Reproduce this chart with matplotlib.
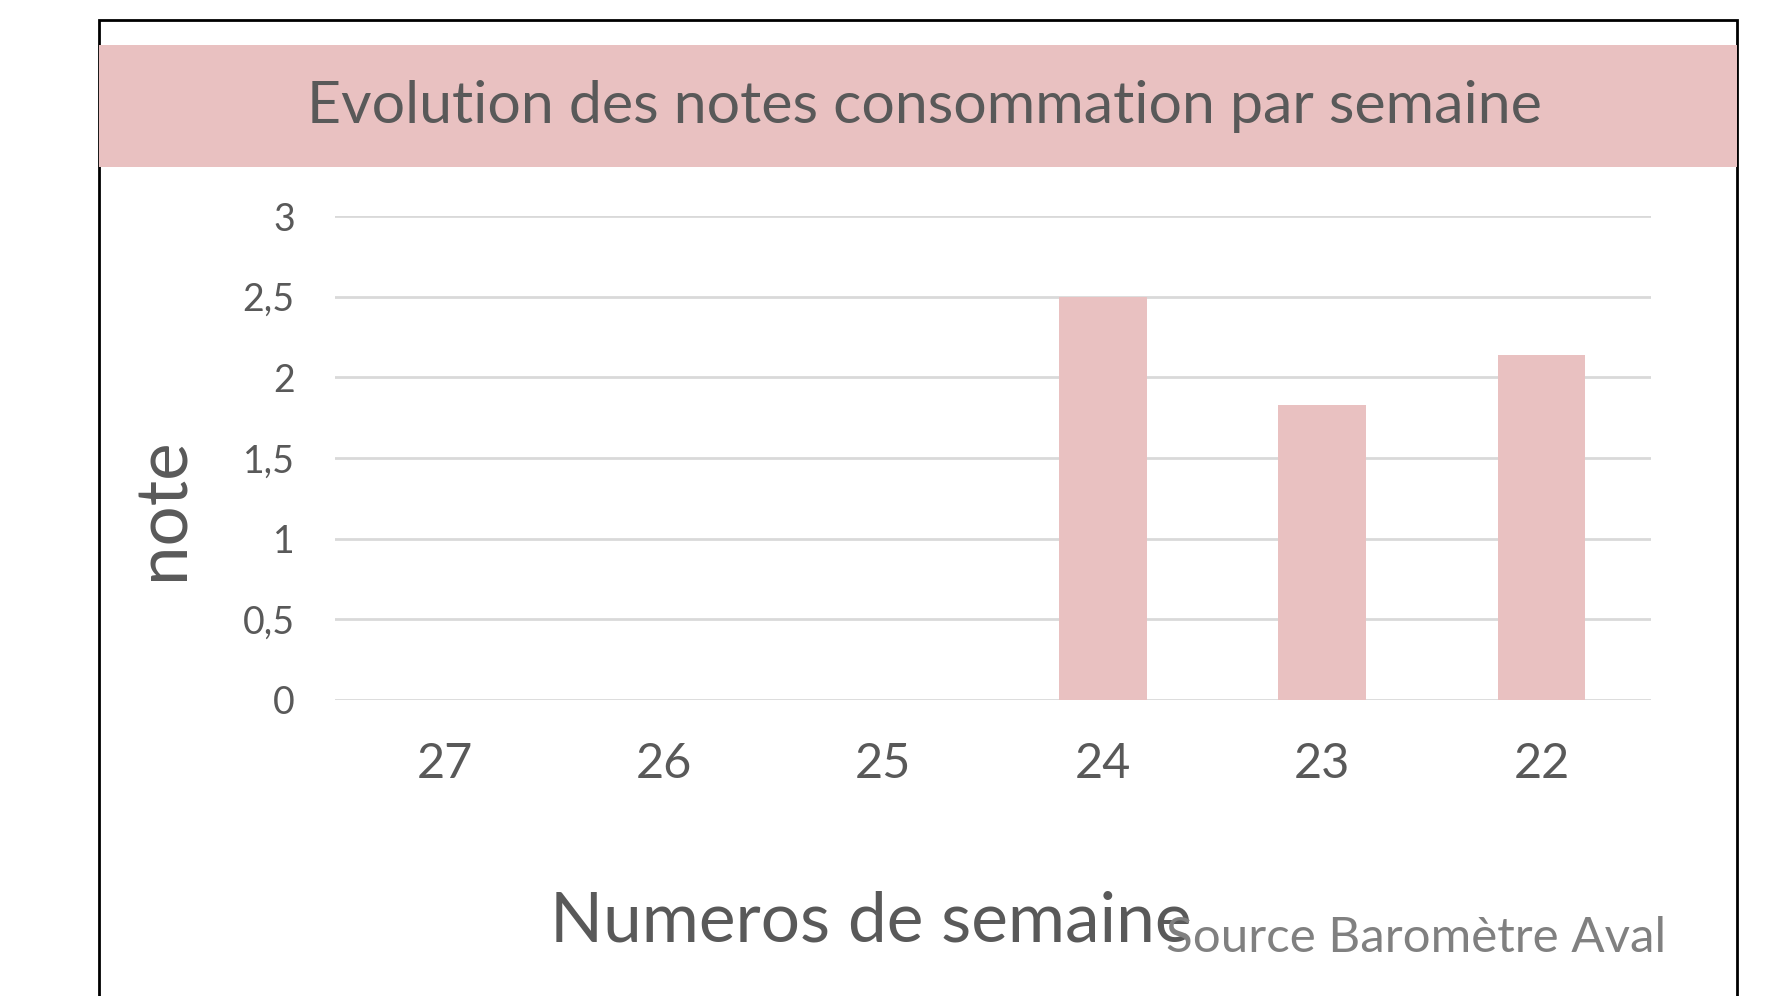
import numpy as np
import matplotlib.pyplot as plt
from matplotlib.patches import Rectangle

# données
semaines = ['27', '26', '25', '24', '23', '22']
notes = [0, 0, 0, 2.5, 1.83, 2.14]
yticks = [0, 0.5, 1, 1.5, 2, 2.5, 3]
ytick_labels = ['0', '0,5', '1', '1,5', '2', '2,5', '3']

rose = '#E9C1C1'
gris = '#595959'

plt.rcParams['font.family'] = ['Lato', 'DejaVu Sans']

fig = plt.figure(figsize=(17.67, 9.96), dpi=100)

# cadre noir extérieur
fig.patches.append(Rectangle((0.056, -0.1), 0.927, 1.08, transform=fig.transFigure,
                             fill=False, edgecolor='black', linewidth=2, zorder=0))
# bandeau du titre
fig.patches.append(Rectangle((0.056, 0.8323), 0.927, 0.1225, transform=fig.transFigure,
                             facecolor=rose, edgecolor='none', zorder=1))
fig.text(0.523, 0.893, 'Evolution des notes consommation par semaine',
         ha='center', va='center', fontsize=42.5, color=gris)

ax = fig.add_axes([0.1896, 0.2972, 0.7448, 0.4859])
x = np.arange(len(semaines))
ax.bar(x, notes, width=0.4, color=rose, zorder=2)

ax.set_xlim(-0.5, len(semaines) - 0.5)
ax.set_ylim(0, 3)
ax.set_yticks(yticks)
ax.set_yticklabels(ytick_labels)
ax.set_xticks(x)
ax.set_xticklabels(semaines)
ax.grid(axis='y', color='#D9D9D9', linewidth=2, zorder=0)
ax.set_axisbelow(True)
for s in ax.spines.values():
    s.set_visible(False)
ax.tick_params(axis='y', length=0, pad=29, labelsize=27, labelcolor=gris)
ax.tick_params(axis='x', length=0, pad=30, labelsize=35, labelcolor=gris)

fig.text(0.092, 0.489, 'note', rotation=90, ha='center', va='center',
         fontsize=51, color=gris)
fig.text(0.493, 0.055, 'Numeros de semaine', ha='center', va='baseline',
         fontsize=50, color=gris)
fig.text(0.66, 0.044, 'Source Baromètre Aval', ha='left', va='baseline',
         fontsize=35.5, color='#808080')

fig.savefig('out.png', dpi=100)
